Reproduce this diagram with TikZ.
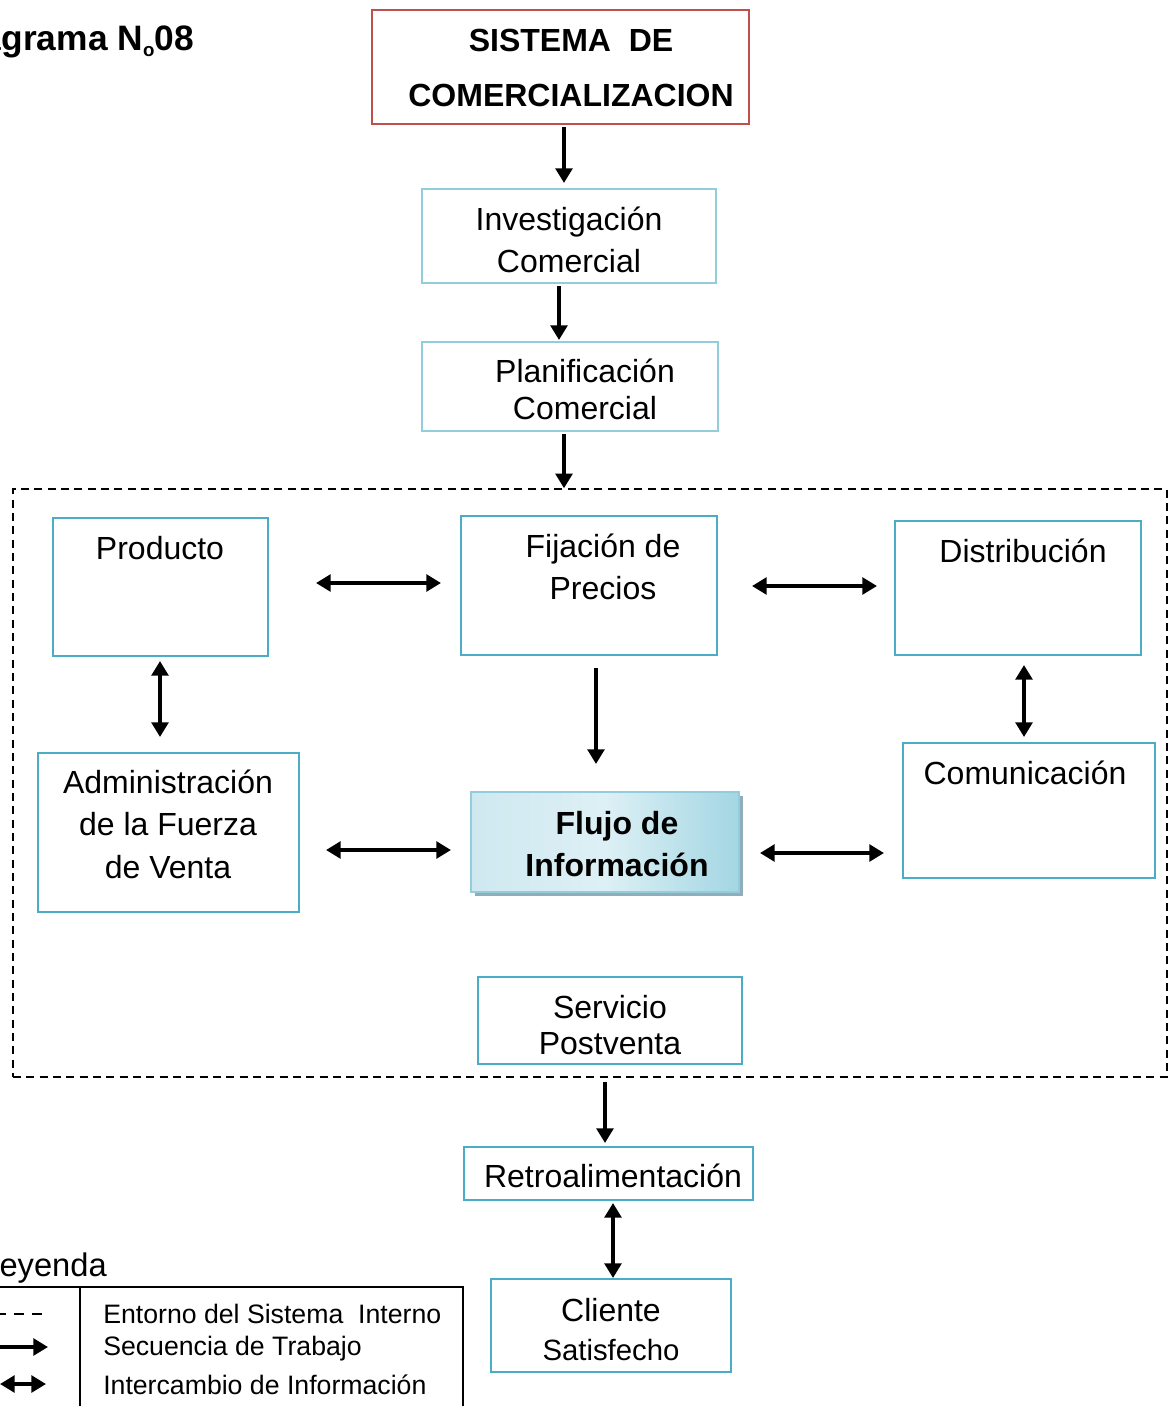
\documentclass[tikz,border=0pt]{standalone}
\usepackage{fontspec}
\setmainfont{Liberation Sans}
\usetikzlibrary{arrows.meta,calc,shadows}
\definecolor{redc}{HTML}{C0504D}
\definecolor{lblue}{HTML}{92CDDC}
\definecolor{mblue}{HTML}{4BACC6}
\definecolor{flblue}{HTML}{93CDDD}
\definecolor{shadowc}{HTML}{8FAEB8}
\definecolor{flleft}{HTML}{CFE8F0}
\definecolor{flmid}{HTML}{DDF0F5}
\definecolor{flright}{HTML}{A3D6E3}
\begin{document}
\begin{tikzpicture}[x=0.75pt,y=-0.75pt,
  sz/.style 2 args={minimum width=#1*0.75pt, minimum height=#2*0.75pt},
  box/.style={draw=mblue, line width=1.5pt, inner sep=0pt, outer sep=0pt},
  lbox/.style={box, draw=lblue},
  txt/.style={font=\fontsize{24}{#1}\selectfont, align=center, inner sep=0pt},
  btxt/.style={font=\fontsize{24}{#1}\selectfont\bfseries, align=center, inner sep=0pt},
  seq/.style={line width=2.9pt, -{Triangle[length=11pt,width=12.5pt]}},
  xchg/.style={line width=2.9pt, {Triangle[length=11pt,width=12.5pt]}-{Triangle[length=11pt,width=12.5pt]}},
  legtxt/.style={font=\fontsize{20}{26.5}\selectfont, align=left, inner sep=0pt, anchor=west}
]
\useasboundingbox (0,0) rectangle (1176,1406);

% heading
\node[font=\fontsize{26.5}{30}\selectfont\bfseries, anchor=base east, inner sep=0pt] (head) at (194,50)
  {Diagrama N\raisebox{-0.35ex}{\fontsize{14}{14}\selectfont o}08};

% boxes
\node[box, draw=redc, line width=1.9pt, sz={377}{114}] (sis) at (560.5,67) {};
\node[btxt=41.25pt] (sis-t) at (571,68) {SISTEMA~~DE\\COMERCIALIZACION};

\node[lbox, sz={294}{94}] (inv) at (569,236) {};
\node[txt=31.5pt] (inv-t) at (569,240) {Investigación\\Comercial};

\node[lbox, sz={296}{89}] (plan) at (570,386.5) {};
\node[txt=27.75pt] (plan-t) at (585,389) {Planificación\\Comercial};

\node[draw, dash pattern=on 6pt off 4pt, line width=1.1pt, inner sep=0pt, sz={1154}{588}] (env) at (590,783) {};

\node[box, sz={215}{138}] (prod) at (160.5,587) {};
\node[txt=28pt] (prod-t) at (160,548) {Producto};

\node[box, sz={256}{139}] (fij) at (589,585.5) {};
\node[txt=31.5pt] (fij-t) at (603,567) {Fijación de\\Precios};

\node[box, sz={246}{134}] (dist) at (1018,588) {};
\node[txt=28pt] (dist-t) at (1023,551) {Distribución};

\node[box, sz={261}{159}] (adm) at (168.5,832.5) {};
\node[txt=31.9pt] (adm-t) at (168,824) {Administración\\de la Fuerza\\de Venta};

\node[box, draw=flblue, line width=1.3pt, sz={268}{100},
      left color=flleft, right color=flright, middle color=flmid,
      drop shadow={shadow xshift=3pt, shadow yshift=-3pt, fill=shadowc, opacity=1}] (flujo) at (605,842) {};
\node[btxt=31.5pt] (flujo-t) at (617,844) {Flujo de\\Información};

\node[box, sz={252}{135}] (com) at (1029,810.5) {};
\node[txt=28pt] (com-t) at (1025,773) {Comunicación};

\node[box, sz={264}{87}] (serv) at (610,1020.5) {};
\node[txt=27pt] (serv-t) at (610,1025) {Servicio\\Postventa};

\node[box, sz={289}{53}] (retro) at (608.5,1173.5) {};
\node[txt=28pt] (retro-t) at (613,1176) {Retroalimentación};

\node[box, line width=2.2pt, sz={240}{93}] (cli) at (611,1325.5) {};
\node[txt=29.25pt] (cli-t) at (611,1330) {Cliente\\{\fontsize{22}{22}\selectfont Satisfecho}};

% work sequence and information exchange
\draw[seq]  ($(sis.south)+(3.5,3)$)   -- ($(inv.north)+(-5,-6)$);
\draw[seq]  ($(inv.south)+(-10,3)$)   -- ($(plan.north)+(-11,-2)$);
\draw[seq]  ($(plan.south)+(-6,3)$)   -- ($(env.north)+(-26,0)$);
\draw[xchg] ($(prod.east)+(48,-4)$)   -- ($(fij.west)+(-20,-2.5)$);
\draw[xchg] ($(fij.east)+(35,0.5)$)   -- ($(dist.west)+(-18,-2)$);
\draw[xchg] ($(prod.south)+(-0.5,5)$) -- ($(adm.north)+(-8.5,-16)$);
\draw[seq]  ($(fij.south)+(7,13)$)    -- ($(flujo.north)+(-9,-28)$);
\draw[xchg] ($(dist.south)+(6,10)$)   -- ($(com.north)+(-5,-6)$);
\draw[xchg] ($(adm.east)+(27,17.5)$)  -- ($(flujo.west)+(-20,8)$);
\draw[xchg] ($(flujo.east)+(21,11)$)  -- ($(com.west)+(-19,42.5)$);
\draw[seq]  ($(serv.south)+(-5,18)$)  -- ($(retro.north)+(-3.5,-4)$);
\draw[xchg] ($(retro.south)+(4.5,3)$) -- ($(cli.north)+(2,-1)$);

% legend
\node[font=\fontsize{24.5}{28}\selectfont, anchor=base east, inner sep=0pt] (leyenda) at (107,1276) {Leyenda};
\draw[line width=1.1pt] (-20,1287) -- (463,1287) -- (463,1430);
\draw[line width=1.1pt] (80,1287) -- (80,1430);
\coordinate (l1a) at (-4,1314);  \coordinate (l1b) at (47,1314);
\coordinate (l2a) at (-10,1347); \coordinate (l2b) at (48,1347);
\coordinate (l3a) at (0,1384);   \coordinate (l3b) at (46,1384);
\draw[line width=1.1pt, dash pattern=on 7.5pt off 6pt] (l1a) -- (l1b);
\draw[seq] (l2a) -- (l2b);
\draw[xchg] (l3a) -- (l3b);
\node[legtxt] (leg1) at (103,1314) {Entorno del Sistema~~Interno};
\node[legtxt] (leg2) at (103,1349) {Secuencia de Trabajo};
\node[legtxt] (leg3) at (103,1385) {Intercambio de Información};
\end{tikzpicture}
\end{document}
